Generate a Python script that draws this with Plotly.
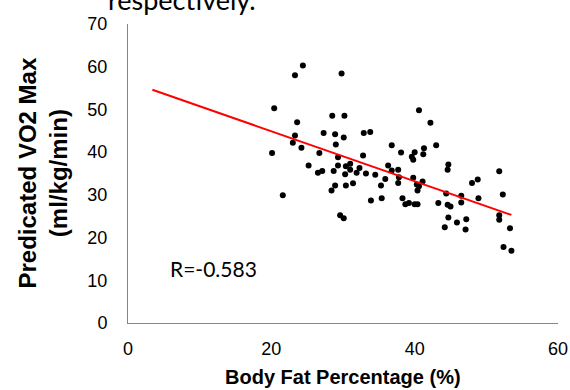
import plotly.graph_objects as go

# Scatter data: body fat percentage (%) vs predicted VO2 max (ml/kg/min)
body_fat = [
    24.4, 23.3, 29.8, 20.4, 28.5, 30.2, 23.6, 27.3, 28.9, 23.3, 30.1, 32.9, 33.8,
    23.0, 24.2, 29.0, 20.1, 26.7, 29.3, 32.8, 36.8,
    25.2, 29.3, 30.4, 31.0, 36.3, 26.5, 27.1, 28.7, 30.3, 31.0, 31.9, 32.3, 33.2,
    34.5, 36.8, 35.9, 28.9, 30.4, 31.4, 35.3, 28.4, 21.6, 33.9, 35.4, 29.6, 30.1,
    40.6, 42.2, 43.0, 41.3, 38.1, 40.0, 41.2, 39.6, 39.8, 37.7, 37.8, 39.8, 37.7,
    41.1, 40.3, 40.6, 40.4, 38.3, 38.7, 39.2, 40.0, 40.4, 44.7, 44.6, 44.4, 43.3,
    44.6, 45.0, 46.5, 46.5, 48.0, 48.8, 48.9, 44.7, 44.2, 45.9, 47.2, 47.1, 51.8,
    52.3, 51.8, 51.8, 53.3, 52.4, 53.5,
]
vo2_max = [
    60.3, 58.0, 58.4, 50.3, 48.5, 48.5, 47.0, 44.5, 44.2, 43.9, 43.4, 44.5, 44.7,
    42.2, 41.0, 41.8, 39.8, 39.8, 38.8, 39.2, 41.6,
    36.9, 36.9, 36.7, 37.3, 36.9, 35.2, 35.6, 35.6, 34.8, 35.9, 35.2, 36.3, 35.0,
    34.7, 35.7, 33.7, 32.2, 32.2, 32.7, 32.2, 31.0, 29.9, 28.7, 29.2, 25.2, 24.5,
    49.8, 46.9, 41.6, 40.9, 39.9, 40.0, 39.5, 38.9, 38.2, 35.9, 34.1, 34.0, 32.8,
    33.1, 32.4, 32.0, 31.0, 29.2, 27.8, 28.1, 27.8, 27.8, 37.1, 35.9, 30.3, 28.1,
    27.7, 27.3, 29.8, 28.2, 32.8, 33.6, 29.2, 24.7, 22.4, 23.5, 24.3, 21.9, 35.5,
    30.1, 25.2, 24.2, 22.2, 17.8, 16.9,
]

# Regression line end points
trend_x = [3.4, 53.5]
trend_y = [54.6, 25.3]

x_ticks = [0, 20, 40, 60]
y_ticks = [0, 10, 20, 30, 40, 50, 60, 70]

axis_font = dict(family="Liberation Sans, Arial, sans-serif", size=18, color="black")

fig = go.Figure()
fig.add_trace(go.Scatter(
    x=body_fat, y=vo2_max, mode="markers",
    marker=dict(color="black", size=6),
    showlegend=False, hoverinfo="skip", cliponaxis=False,
))
fig.add_trace(go.Scatter(
    x=trend_x, y=trend_y, mode="lines",
    line=dict(color="#ff0000", width=2),
    showlegend=False, hoverinfo="skip",
))

fig.update_layout(
    width=570, height=390,
    margin=dict(l=128, r=12, t=24, b=67),
    paper_bgcolor="white", plot_bgcolor="white",
    xaxis=dict(
        range=[0, 60], tickvals=x_ticks, showgrid=False, zeroline=False,
        showline=True, linecolor="#868686", linewidth=1, ticks="",
        tickfont=axis_font, ticklabelstandoff=9, automargin=False,
    ),
    yaxis=dict(
        range=[0, 70], tickvals=y_ticks, showgrid=False, zeroline=False,
        showline=True, linecolor="#868686", linewidth=1, ticks="",
        tickfont=axis_font, ticklabelstandoff=16, automargin=False,
    ),
    annotations=[
        dict(text="<b>Body Fat Percentage (%)</b>", xref="paper", yref="paper",
             x=0.5, y=-0.18, xanchor="center", yanchor="middle", showarrow=False,
             font=dict(family="Liberation Sans, Arial, sans-serif", size=20, color="black")),
        dict(text="<b>Predicated VO2 Max<br>(ml/kg/min)</b>", xref="paper", yref="paper",
             x=-0.2, y=0.5, xanchor="center", yanchor="middle", textangle=-90,
             showarrow=False,
             font=dict(family="Liberation Sans, Arial, sans-serif", size=24, color="black")),
        dict(text="R=-0.583", xref="x", yref="y", x=11.9, y=12.8,
             xanchor="center", yanchor="middle", showarrow=False,
             font=dict(family="Lato, Open Sans, sans-serif", size=21, color="black")),
        dict(text="respectively.", xref="paper", yref="paper", x=0.1266, y=1.082,
             xanchor="center", yanchor="middle", showarrow=False,
             font=dict(family="Lato, Open Sans, sans-serif", size=27, color="black")),
    ],
)

fig.write_html(
    "out.html",
    config={"displayModeBar": False},
    post_script="document.body.style.margin='0';document.body.style.overflow='hidden';",
)
